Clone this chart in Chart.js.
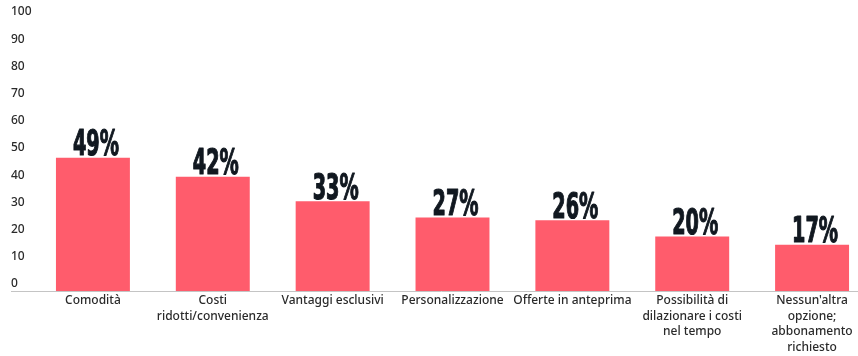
<!DOCTYPE html>
<html lang="it">
<head>
<meta charset="utf-8">
<script src="https://cdn.jsdelivr.net/npm/chart.js@4.4.1/dist/chart.umd.min.js"></script>
<style>
  html, body { margin: 0; padding: 0; background: #fff; overflow: hidden; }
  .chart-wrap { position: relative; width: 872px; height: 356px; }
</style>
</head>
<body>
<div class="chart-wrap">
  <canvas id="motivi"></canvas>
</div>
<script>
const categories = [
  'Comodità',
  ['Costi', 'ridotti/convenienza'],
  'Vantaggi esclusivi',
  'Personalizzazione',
  'Offerte in anteprima',
  ['Possibilità di', 'dilazionare i costi', 'nel tempo'],
  ['Nessun\'altra', 'opzione;', 'abbonamento', 'richiesto']
];
const percentages = [49, 42, 33, 27, 26, 20, 17];
const yTicks = [0, 10, 20, 30, 40, 50, 60, 70, 80, 90, 100];

const BAR_RED = '#ff5c6c';
const INK = '#2a2a2a';

// percentage labels sitting on top of each bar, in a tall condensed face
const barValueLabels = {
  id: 'barValueLabels',
  afterDatasetsDraw(chart) {
    const ctx = chart.ctx;
    const meta = chart.getDatasetMeta(0);
    ctx.save();
    ctx.fillStyle = '#111820';
    ctx.strokeStyle = '#111820';
    ctx.lineWidth = 1.2;
    ctx.lineJoin = 'round';
    ctx.font = 'bold 35px "DejaVu Sans Condensed", "DejaVu Sans", sans-serif';
    ctx.textAlign = 'center';
    ctx.textBaseline = 'alphabetic';
    meta.data.forEach((bar, i) => {
      const text = percentages[i] + '%';
      ctx.save();
      ctx.translate(bar.x + 3, bar.y - 2.5);
      ctx.scale(0.61, 1);
      ctx.fillText(text, 0, 0);
      ctx.strokeText(text, 0, 0);
      ctx.restore();
    });
    ctx.restore();
  }
};

// baseline runs from the left margin under the y labels to the edge
const baseLine = {
  id: 'baseLine',
  afterDatasetsDraw(chart) {
    const ctx = chart.ctx;
    const y = Math.round(chart.scales.y.getPixelForValue(0)) + 0.5;
    ctx.save();
    ctx.strokeStyle = '#c4c4c4';
    ctx.lineWidth = 1;
    ctx.beginPath();
    ctx.moveTo(11, y);
    ctx.lineTo(chart.width, y);
    ctx.stroke();
    ctx.restore();
  }
};

new Chart(document.getElementById('motivi'), {
  type: 'bar',
  data: {
    labels: categories,
    datasets: [{
      data: percentages,
      backgroundColor: BAR_RED,
      borderWidth: 0,
      barPercentage: 0.617,
      categoryPercentage: 1
    }]
  },
  options: {
    responsive: true,
    maintainAspectRatio: false,
    animation: false,
    layout: { padding: { left: 11, top: 19, right: 0, bottom: 0 } },
    plugins: {
      legend: { display: false },
      tooltip: { enabled: false }
    },
    scales: {
      x: {
        grid: { display: false, drawTicks: false },
        border: { display: false },
        ticks: {
          color: INK,
          font: { family: '"Noto Sans", sans-serif', size: 12, weight: 500, lineHeight: 1.3 },
          padding: 2,
          maxRotation: 0,
          autoSkip: false
        },
        afterFit(scale) { scale.height = 65; }
      },
      y: {
        min: 0,
        max: 100,
        afterBuildTicks(scale) { scale.ticks = yTicks.map(v => ({ value: v })); },
        grid: { display: false, drawTicks: false },
        border: { display: false },
        ticks: {
          color: INK,
          font: { family: '"Noto Sans", sans-serif', size: 12, weight: 500 },
          crossAlign: 'far',
          labelOffset: -7,
          padding: 0
        },
        afterFit(scale) { scale.width = 22; }
      }
    }
  },
  plugins: [barValueLabels, baseLine]
});
</script>
</body>
</html>
